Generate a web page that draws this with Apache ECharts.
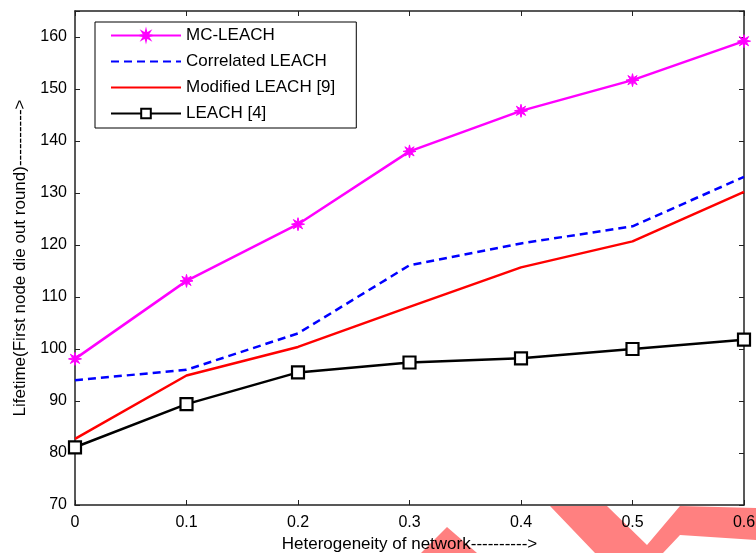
<!DOCTYPE html>
<html>
<head>
<meta charset="utf-8">
<script src="https://cdn.jsdelivr.net/npm/echarts@6/dist/echarts.min.js"></script>
<style>
html,body{margin:0;padding:0;background:#fff;}
#c{width:756px;height:553px;}
</style>
</head>
<body>
<div id="c"></div>
<script>
var xValues = [0, 0.1, 0.2, 0.3, 0.4, 0.5, 0.6];
var seriesNames = ['MC-LEACH', 'Correlated LEACH', 'Modified LEACH [9]', 'LEACH [4]'];
var mcLeach = [98.1, 113.1, 124.0, 138.0, 145.8, 151.7, 159.2];
var correlatedLeach = [94.0, 96.0, 103.0, 116.1, 120.3, 123.6, 133.1];
var modifiedLeach = [82.7, 94.9, 100.4, 108.1, 115.7, 120.7, 130.2];
var leach = [81.1, 89.4, 95.5, 97.4, 98.2, 100.0, 101.8];
var yTicks = [70, 80, 90, 100, 110, 120, 130, 140, 150, 160];

function pairs(vals) { return xValues.map(function (x, i) { return [x, vals[i]]; }); }

var starPath = 'path://M20 10L13.7 11.5L17.07 17.07L11.5 13.7L10 20L8.5 13.7L2.93 17.07L6.3 11.5L0 10L6.3 8.5L2.93 2.93L8.5 6.3L10 0L11.5 6.3L17.07 2.93L13.7 8.5Z';
var font = 'Liberation Sans, Arial, sans-serif';
var axisCol = '#222';

var chart = echarts.init(document.getElementById('c'), null, {renderer: 'canvas'});
var commonX = {
  type: 'value', min: 0, max: 0.6, interval: 0.1,
  axisLine: {show: true, onZero: false, lineStyle: {color: axisCol, width: 1.5}},
  axisTick: {show: true, inside: true, length: 5, lineStyle: {color: axisCol, width: 1}},
  splitLine: {show: false}
};
var commonY = {
  type: 'value', min: 70, max: 165, interval: 10,
  axisLine: {show: true, onZero: false, lineStyle: {color: axisCol, width: 1.5}},
  axisTick: {show: true, inside: true, length: 5, lineStyle: {color: axisCol, width: 1}},
  splitLine: {show: false}
};
var option = {
  backgroundColor: '#fff',
  animation: false,
  grid: {left: 75, right: 12, top: 11, bottom: 48, containLabel: false, outerBoundsMode: 'none'},
  legend: {
    orient: 'vertical', left: 95, top: 22,
    data: [
      {name: seriesNames[0]},
      {name: seriesNames[1], itemStyle: {opacity: 0}},
      {name: seriesNames[2], itemStyle: {opacity: 0}},
      {name: seriesNames[3]}
    ],
    backgroundColor: '#fff', borderColor: '#000', borderWidth: 1,
    padding: [5, 21, 6, 15], itemWidth: 70, itemHeight: 12, itemGap: 9,
    textStyle: {fontFamily: font, fontSize: 17, color: '#000'}
  },
  xAxis: [
    Object.assign({}, commonX, {
      position: 'bottom',
      name: 'Heterogeneity of network---------->', nameLocation: 'middle', nameGap: 30,
      nameTextStyle: {fontFamily: font, fontSize: 17, color: '#000'},
      axisLabel: {show: true, margin: 10, fontFamily: font, fontSize: 16, color: '#000',
        formatter: function (v) { return String(Math.round(v * 10) / 10); }}
    }),
    Object.assign({}, commonX, {position: 'top', axisLabel: {show: false}})
  ],
  yAxis: [
    Object.assign({}, commonY, {
      position: 'left',
      name: 'Lifetime(First node die out round)---------->', nameLocation: 'middle', nameGap: 46,
      nameTextStyle: {fontFamily: font, fontSize: 17, color: '#000'},
      axisLabel: {show: true, margin: 8, fontFamily: font, fontSize: 16, color: '#000',
        formatter: function (v) { return yTicks.indexOf(v) >= 0 ? String(v) : ''; }}
    }),
    Object.assign({}, commonY, {position: 'right', axisLabel: {show: false}})
  ],
  graphic: [
    {type: 'polygon', z: -10, shape: {points: [[421, 553], [447, 527], [477, 553]]}, style: {fill: '#ff8080'}},
    {type: 'polygon', z: -10, shape: {points: [[550, 506], [607, 506], [647, 545], [680, 506], [756, 508], [756, 540], [680, 535], [663, 553], [595, 553]]}, style: {fill: '#ff8080'}}
  ],
  series: [
    {name: seriesNames[0], type: 'line', data: pairs(mcLeach), symbol: starPath, symbolSize: 13,
      lineStyle: {color: '#ff00ff', width: 2.5}, itemStyle: {color: '#ff00ff', borderColor: '#ff00ff', borderWidth: 1}, z: 5},
    {name: seriesNames[1], type: 'line', data: pairs(correlatedLeach), symbol: 'none', showSymbol: false,
      lineStyle: {color: '#0000ff', width: 2.5, type: [8, 5]}, itemStyle: {color: '#0000ff'}, z: 4},
    {name: seriesNames[2], type: 'line', data: pairs(modifiedLeach), symbol: 'none', showSymbol: false,
      lineStyle: {color: '#ff0000', width: 2.5}, itemStyle: {color: '#ff0000'}, z: 3},
    {name: seriesNames[3], type: 'line', data: pairs(leach), symbol: 'rect', symbolSize: 12,
      lineStyle: {color: '#000', width: 2.5}, itemStyle: {color: '#fff', borderColor: '#000', borderWidth: 2.2}, z: 6}
  ]
};
chart.setOption(option);
</script>
</body>
</html>
